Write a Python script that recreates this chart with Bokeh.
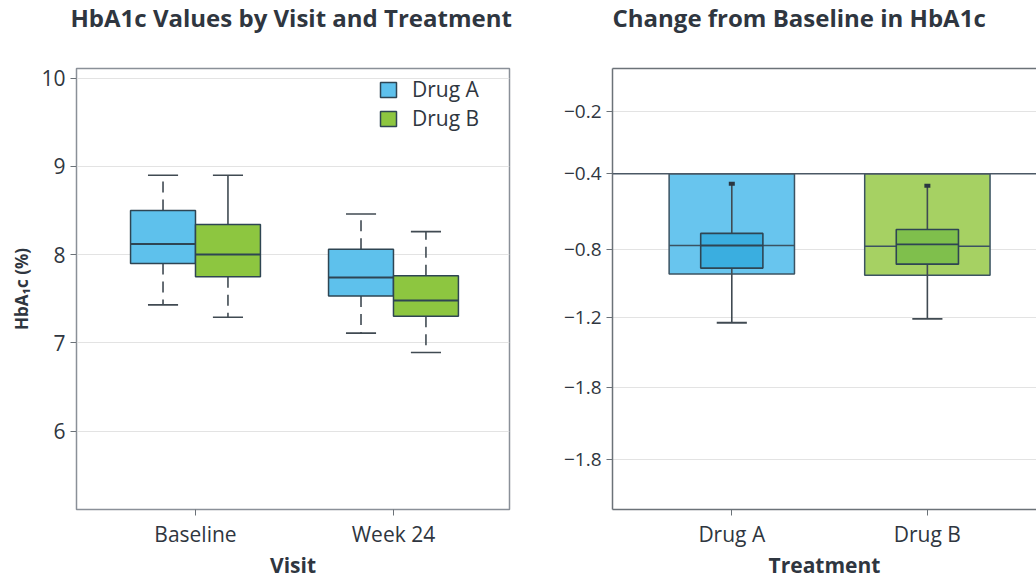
from bokeh.plotting import figure
from bokeh.models import FixedTicker, Span, LinearAxis, Legend, LegendItem, Range1d
from bokeh.layouts import row
from bokeh.embed import file_html
from bokeh.resources import INLINE
import numpy as np

# ---------------- data ----------------
visits = ["Baseline", "Week 24"]
drugs = ["Drug A", "Drug B"]

# left panel: HbA1c by visit (one entry per visit)
a_hi = [8.90, 8.46]
a_q3 = [8.50, 8.06]
a_med = [8.12, 7.74]
a_q1 = [7.90, 7.53]
a_lo = [7.43, 7.11]

b_hi = [8.90, 8.26]
b_q3 = [8.34, 7.76]
b_med = [8.00, 7.48]
b_q1 = [7.75, 7.30]
b_lo = [7.29, 6.89]

left_y_ticks = [6, 7, 8, 9, 10]

# right panel: change from baseline (one entry per drug), in axis-label units
chg_bar_top = [-0.40, -0.40]
chg_bar_bottom = [-0.945, -0.951]
chg_bar_median = [-0.780, -0.784]
chg_hi = [-0.453, -0.463]
chg_q3 = [-0.716, -0.695]
chg_med = [-0.780, -0.774]
chg_q1 = [-0.910, -0.887]
chg_lo = [-1.229, -1.206]

right_tick_labels = ["\u22120.2", "\u22120.4", "\u22120.8", "\u22121.2", "\u22121.8", "\u22121.8"]
right_label_values = [-0.2, -0.4, -0.8, -1.2]

titles = ["HbA1c Values by Visit and Treatment", "Change from Baseline in HbA1c"]

# ---------------- styling ----------------
FONT = "Open Sans"
TXT = "#2f3640"
EDGE = "#2e4553"
WHISK = "#404a52"
BLUE = "#5ec1ec"
GREEN = "#8dc640"
BLUE_BAR = "#68c5ee"
BLUE_IN = "#3aaee0"
GREEN_BAR = "#a6d163"
GREEN_IN = "#7fbf4c"

# axis positions for the (unevenly labelled) right-hand ticks
right_tick_pos = [-0.2, -0.3795, -0.596, -0.7926, -0.992, -1.2]


def to_pos(vals):
    lv = list(right_label_values)
    tp = list(right_tick_pos[:4])
    # linear extension of the last labelled segment
    lv.append(2 * lv[-1] - lv[-2])
    tp.append(2 * tp[-1] - tp[-2])
    return list(np.interp(np.array(vals), lv[::-1], tp[::-1]))


def style_axes(p):
    for ax in (p.xaxis[0], p.yaxis[0]):
        ax.major_label_text_font = FONT
        ax.major_label_text_color = TXT
        ax.axis_label_text_font = FONT
        ax.axis_label_text_font_size = "21px"
        ax.axis_label_text_font_style = "bold"
        ax.axis_label_text_color = TXT
        ax.minor_tick_line_color = None
        ax.major_tick_in = 0
        ax.major_tick_out = 6
        ax.major_tick_line_color = "#6b7278"
        ax.axis_line_color = "#6b7278"
        ax.axis_line_width = 1.5
    p.xaxis.major_label_text_font_size = "21px"
    p.yaxis.major_label_text_font_size = "19px"
    p.xaxis.major_label_standoff = 4
    p.xaxis.axis_label_standoff = 0
    p.title.text_font = FONT
    p.title.text_font_size = "24px"
    p.title.text_font_style = "bold"
    p.title.text_color = TXT
    p.title.align = "left"
    p.title.offset = -6
    p.title.vertical_align = "top"
    p.title.standoff = 0
    p.title.padding = 0
    p.xgrid.grid_line_color = None
    p.ygrid.grid_line_color = "#e3e3e3"
    p.ygrid.grid_line_width = 1


# ---------------- left panel ----------------
p1 = figure(width=545, height=581, output_backend="svg", toolbar_location=None,
            title=titles[0] + "\n ",
            x_range=Range1d(-0.601, 1.586), y_range=Range1d(5.11, 10.11),
            min_border_left=76, min_border_right=36, min_border_top=65,
            min_border_bottom=10)
style_axes(p1)
p1.outline_line_color = "#8a9098"
p1.outline_line_width = 1.5
p1.xaxis.axis_line_color = None
p1.yaxis.axis_line_color = None
p1.xaxis.ticker = FixedTicker(ticks=list(range(len(visits))))
p1.xaxis.major_label_overrides = {i: v for i, v in enumerate(visits)}
p1.yaxis.ticker = FixedTicker(ticks=left_y_ticks)
p1.yaxis.major_label_text_font_size = "21px"
p1.xaxis.axis_label = "Visit"
p1.yaxis.axis_label = "HbA\u2081c (%)"
p1.yaxis.axis_label_text_font_size = "17px"

off = 0.164
bw = 0.328
cw = 0.152
legend_items = []
for name, sgn, col, hi, q3, med, q1, lo, dash_up, dash_lo in [
    ("Drug A", -1, BLUE, a_hi, a_q3, a_med, a_q1, a_lo, ["11 7", "11 7"], ["11 7", "11 7"]),
    ("Drug B", 1, GREEN, b_hi, b_q3, b_med, b_q1, b_lo, ["solid", "11 7"], ["11 7", "11 7"]),
]:
    xs = [i + sgn * off for i in range(len(visits))]
    for j, x in enumerate(xs):
        p1.segment(x0=[x], y0=[q3[j]], x1=[x], y1=[hi[j]], line_color=WHISK,
                   line_width=1.6, line_dash=dash_up[j])
        p1.segment(x0=[x], y0=[q1[j]], x1=[x], y1=[lo[j]], line_color=WHISK,
                   line_width=1.6, line_dash=dash_lo[j])
    p1.segment(x0=[x - cw / 2 for x in xs], y0=hi, x1=[x + cw / 2 for x in xs], y1=hi,
               line_color=WHISK, line_width=1.6)
    p1.segment(x0=[x - cw / 2 for x in xs], y0=lo, x1=[x + cw / 2 for x in xs], y1=lo,
               line_color=WHISK, line_width=1.6)
    r = p1.vbar(x=xs, width=bw, top=q3, bottom=q1, fill_color=col, line_color=EDGE,
                line_width=1.5)
    p1.segment(x0=[x - bw / 2 for x in xs], y0=med, x1=[x + bw / 2 for x in xs], y1=med,
               line_color=EDGE, line_width=2)
    legend_items.append(LegendItem(label=name, renderers=[r]))

leg = Legend(items=legend_items, location=(302, 377))
leg.border_line_color = None
leg.background_fill_alpha = 0
leg.label_text_font = FONT
leg.label_text_font_size = "21px"
leg.label_text_color = TXT
leg.glyph_width = 20
leg.glyph_height = 19
leg.label_height = 19
leg.spacing = 1
leg.margin = 0
leg.padding = 2
leg.label_standoff = 14
p1.add_layout(leg)

# ---------------- right panel ----------------
p2 = figure(width=491, height=581, output_backend="svg", toolbar_location=None,
            title=titles[1] + "\n ",
            x_range=Range1d(-0.610, 1.558), y_range=Range1d(-1.3425, -0.0775),
            min_border_left=67, min_border_right=0, min_border_top=65,
            min_border_bottom=10)
style_axes(p2)
p2.title.offset = 0
p2.outline_line_color = None
p2.xaxis.ticker = FixedTicker(ticks=list(range(len(drugs))))
p2.xaxis.major_label_overrides = {i: d for i, d in enumerate(drugs)}
p2.xaxis.axis_label = "Treatment"
p2.yaxis.ticker = FixedTicker(ticks=right_tick_pos)
p2.yaxis.major_label_overrides = {t: l for t, l in zip(right_tick_pos, right_tick_labels)}
top_ax = LinearAxis(ticker=FixedTicker(ticks=[]), axis_line_color="#6b7278",
                    axis_line_width=1.5, major_label_text_font_size="0px",
                    major_tick_line_color=None, minor_tick_line_color=None)
p2.add_layout(top_ax, "above")

xs2 = list(range(len(drugs)))
bar_w = 0.641
in_w = 0.318
cap_w = 0.154
p2.vbar(x=xs2, width=bar_w, top=to_pos(chg_bar_top), bottom=to_pos(chg_bar_bottom),
        fill_color=[BLUE_BAR, GREEN_BAR], line_color="#3b5362", line_width=1.5)
p2.add_layout(Span(location=to_pos([-0.4])[0], dimension="width", line_color="#4b5865",
                   line_width=1.5))
p2.segment(x0=[x - bar_w / 2 for x in xs2], y0=to_pos(chg_bar_median),
           x1=[x + bar_w / 2 for x in xs2], y1=to_pos(chg_bar_median),
           line_color="#3b5362", line_width=1.5)
p2.segment(x0=xs2, y0=to_pos(chg_q3), x1=xs2, y1=to_pos(chg_hi), line_color=WHISK,
           line_width=1.6)
p2.segment(x0=xs2, y0=to_pos(chg_q1), x1=xs2, y1=to_pos(chg_lo), line_color=WHISK,
           line_width=1.6)
p2.segment(x0=[x - cap_w / 2 for x in xs2], y0=to_pos(chg_lo),
           x1=[x + cap_w / 2 for x in xs2], y1=to_pos(chg_lo), line_color=WHISK,
           line_width=1.8)
p2.rect(x=xs2, y=to_pos(chg_hi), width=6, height=4, width_units="screen",
        height_units="screen", fill_color="#2a3640", line_color=None)
p2.vbar(x=xs2, width=in_w, top=to_pos(chg_q3), bottom=to_pos(chg_q1),
        fill_color=[BLUE_IN, GREEN_IN], line_color=EDGE, line_width=1.6)
p2.segment(x0=[x - in_w / 2 for x in xs2], y0=to_pos(chg_med),
           x1=[x + in_w / 2 for x in xs2], y1=to_pos(chg_med), line_color=EDGE,
           line_width=1.8)

layout = row(p1, p2)
open("out.html", "w").write(file_html(layout, INLINE))
